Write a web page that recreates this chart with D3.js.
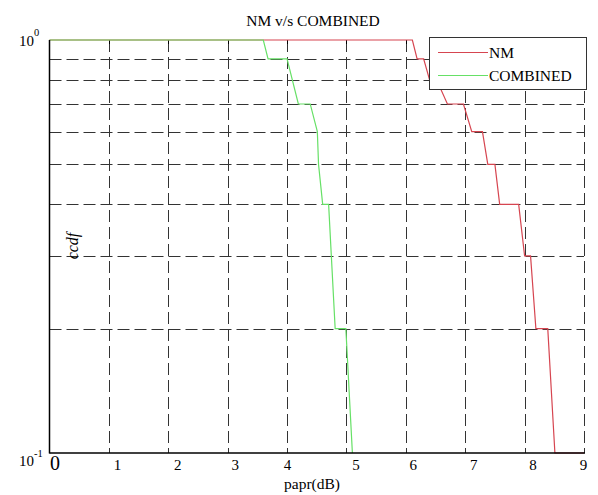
<!DOCTYPE html>
<html>
<head>
<meta charset="utf-8">
<script src="https://cdn.jsdelivr.net/npm/d3@7/dist/d3.min.js"></script>
<style>
  html, body { margin: 0; padding: 0; background: #fff; }
  svg { display: block; }
  text { font-family: "Liberation Serif", "Times New Roman", serif; fill: #000; }
</style>
</head>
<body>
<svg id="chart" width="598" height="495"></svg>
<script>
// ---- data ----
const xTicks = [0, 1, 2, 3, 4, 5, 6, 7, 8, 9];
const yGrid = [0.2, 0.3, 0.4, 0.5, 0.6, 0.7, 0.8, 0.9];
const seriesNames = ["NM", "COMBINED"];
const nmX = [0, 6.11, 6.19, 6.30, 6.40, 6.52, 6.70, 6.97, 7.11, 7.29, 7.38, 7.50, 7.58, 7.90, 8.00, 8.10, 8.19, 8.39, 8.51, 9.00];
const nmY = [1, 1, 0.9, 0.9, 0.8, 0.8, 0.7, 0.7, 0.6, 0.6, 0.5, 0.5, 0.4, 0.4, 0.3, 0.3, 0.2, 0.2, 0.1, 0.1];
const combX = [0, 3.60, 3.68, 4.00, 4.19, 4.39, 4.51, 4.53, 4.60, 4.70, 4.81, 4.99, 5.10];
const combY = [1, 1, 0.9, 0.9, 0.7, 0.7, 0.6, 0.5, 0.4, 0.4, 0.2, 0.2, 0.1];

// ---- layout ----
const L = 49.5, R = 584, T = 40, B = 453;
const svg = d3.select("#chart");
const x = d3.scaleLinear().domain([0, 9]).range([L, R]);
const y = d3.scaleLog().domain([0.1, 1]).range([B, T]);
const colors = ["#d64550", "#66e066"];

// grid
const grid = svg.append("g").attr("stroke", "#333").attr("stroke-width", 1)
  .attr("stroke-dasharray", "12,5").attr("fill", "none");
grid.selectAll("line.v").data(xTicks.filter(d => d > 0)).join("line")
  .attr("x1", d => Math.round(x(d)) + 0.5).attr("x2", d => Math.round(x(d)) + 0.5)
  .attr("y1", T).attr("y2", B);
grid.selectAll("line.h").data(yGrid).join("line")
  .attr("y1", d => Math.round(y(d)) + 0.5).attr("y2", d => Math.round(y(d)) + 0.5)
  .attr("x1", L).attr("x2", R);

// small inward ticks at top
svg.append("g").selectAll("line").data(xTicks.filter(d => d > 0)).join("line")
  .attr("x1", d => Math.round(x(d)) + 0.5).attr("x2", d => Math.round(x(d)) + 0.5)
  .attr("y1", T).attr("y2", T + 4).attr("stroke", "#000");

// series
const line = d3.line().x(d => x(d[0])).y(d => y(d[1]));
const nm = nmX.map((v, i) => [v, nmY[i]]);
const comb = combX.map((v, i) => [v, combY[i]]);
svg.append("path").attr("d", line(nm)).attr("fill", "none")
  .attr("stroke", colors[0]).attr("stroke-width", 1.2);
svg.append("path").attr("d", line(comb)).attr("fill", "none")
  .attr("stroke", colors[1]).attr("stroke-width", 1.2);

// axes lines
svg.append("line").attr("x1", L).attr("x2", L).attr("y1", T).attr("y2", B + 0.5)
  .attr("stroke", "#000").attr("stroke-width", 1.5);
svg.append("line").attr("x1", L).attr("x2", R + 1).attr("y1", B).attr("y2", B)
  .attr("stroke", "#000").attr("stroke-width", 1.5);

// x tick labels
const labelNudge = [5, 8, 9, 7, 0, 9, 7, 8, 8, -1];
const xAxis = svg.append("g").attr("transform", `translate(0,${B})`)
  .call(d3.axisBottom(x).tickValues(xTicks).tickSize(0).tickFormat(d3.format("d")));
xAxis.select(".domain").remove();
xAxis.selectAll("text")
  .attr("y", 0).attr("dy", 0)
  .attr("transform", null)
  .attr("x", (d, i) => labelNudge[i])
  .attr("dominant-baseline", "auto")
  .style("font-family", '"Liberation Serif", serif')
  .style("font-size", d => d === 0 ? "20px" : "15px")
  .attr("fill", "#000")
  .each(function () { d3.select(this).attr("y", 17); });

// y tick labels (10^0, 10^-1)
const yLabels = [{ v: 1, exp: "0" }, { v: 0.1, exp: "-1" }];
yLabels.forEach(o => {
  const yy = y(o.v);
  const t = svg.append("text").attr("x", 34).attr("y", o.v === 1 ? yy + 6 : yy + 13)
    .attr("text-anchor", "end").style("font-size", "15px").text("10");
  svg.append("text").attr("x", 34).attr("y", o.v === 1 ? yy - 4 : yy + 4)
    .attr("text-anchor", "start").style("font-size", "10.5px").text(o.exp);
});

// titles
svg.append("text").attr("x", 313).attr("y", 26).attr("text-anchor", "middle")
  .style("font-size", "15.5px").text("NM v/s COMBINED");
svg.append("text").attr("x", 312).attr("y", 489).attr("text-anchor", "middle")
  .style("font-size", "15.5px").text("papr(dB)");
svg.append("text").attr("transform", "translate(78,246) rotate(-90)")
  .attr("text-anchor", "middle").style("font-size", "16px").style("font-style", "italic")
  .text("ccdf");

// legend
const lg = svg.append("g");
lg.append("rect").attr("x", 429.5).attr("y", 37.5).attr("width", 157).attr("height", 52)
  .attr("fill", "#fff").attr("stroke", "#333").attr("stroke-width", 1);
seriesNames.forEach((name, i) => {
  const ly = 52.5 + i * 23;
  lg.append("line").attr("x1", 438).attr("x2", 488).attr("y1", ly).attr("y2", ly)
    .attr("stroke", colors[i]).attr("stroke-width", 1.2);
  lg.append("text").attr("x", 489).attr("y", ly + 5).style("font-size", "15.5px").text(name);
});
</script>
</body>
</html>
